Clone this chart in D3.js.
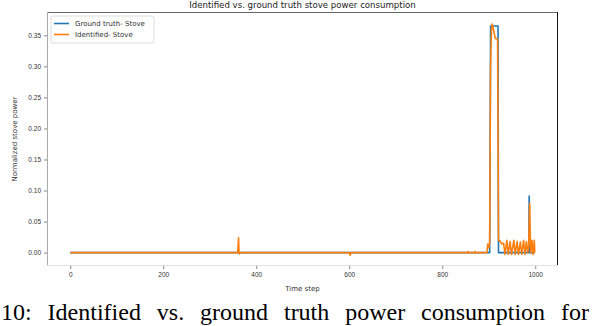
<!DOCTYPE html>
<html>
<head>
<meta charset="utf-8">
<script src="https://cdnjs.cloudflare.com/ajax/libs/d3/7.8.5/d3.min.js"></script>
<style>
  body { margin: 0; background: #fff; }
  svg { display: block; font-family: "DejaVu Sans", sans-serif; }
  .line { fill: none; stroke-width: 1.6px; stroke-linejoin: round; }
  .tick text { fill: #333; font-size: 6.5px; }
  .tick line { stroke: #888; }
  .caption { font-family: "Liberation Serif", "Times New Roman", Times, serif; font-size: 24px; fill: #000; }
</style>
</head>
<body>
<script>
// ground truth (step shape), [time step, normalized power]
var truthSteps = [0, 902, 904, 920, 921, 986, 987, 988, 999];
var truthValues = [0, 0, 0.365, 0.365, 0, 0, 0.091, 0, 0];

// identified signal
var identSteps = [0, 360, 362, 363, 364, 366, 600, 602, 604, 854, 855, 856, 870, 871, 872,
  896, 898, 900, 902, 904, 906, 907, 910, 914, 919, 921, 923, 928, 932, 935, 939, 942,
  946, 949, 954, 957, 961, 964, 968, 971, 975, 978, 981, 984, 986, 988, 990, 993, 995, 998, 999];
var identValues = [0, 0, 0.024, 0, -0.002, 0, 0, -0.004, 0, 0, 0.002, 0, 0, 0.002, 0,
  0, 0.014, 0.008, 0.015, 0.3, 0.36, 0.368, 0.36, 0.345, 0.344, 0.02, 0.02, 0.014, 0.015, -0.003, 0.02, -0.003,
  0.018, -0.003, 0.02, -0.003, 0.018, -0.003, 0.017, -0.003, 0.02, -0.003, 0.018, 0, 0.012, 0.079, 0, 0.02, -0.003, 0.02, 0];

var xTicks = [0, 200, 400, 600, 800, 1000];
var yTicks = [0, 0.05, 0.10, 0.15, 0.20, 0.25, 0.30, 0.35];

var W = 592, H = 326;
var margin = {top: 12, right: 34, bottom: 60, left: 47},
    width = W - margin.left - margin.right,
    height = H - margin.top - margin.bottom;

var truth = truthSteps.map((d, i) => [d, truthValues[i]]);
var ident = identSteps.map((d, i) => [d, identValues[i]]);

var x = d3.scaleLinear().domain([-49.95, 1048.95]).range([0, width]);
var y = d3.scaleLinear().domain([-0.0215, 0.3875]).range([height, 0]);

var svg = d3.select("body").append("svg")
    .attr("width", W)
    .attr("height", H);

var g = svg.append("g")
    .attr("transform", "translate(" + margin.left + "," + margin.top + ")");

var valueline = d3.line()
    .x(d => x(d[0]))
    .y(d => y(d[1]));

g.append("path").datum(truth).attr("class", "line").style("stroke", "#1f77b4").attr("d", valueline);
g.append("path").datum(ident).attr("class", "line").style("stroke", "#ff7f0e").attr("d", valueline);

// axes
var xAxis = g.append("g")
    .attr("transform", "translate(0," + height + ")")
    .call(d3.axisBottom(x).tickValues(xTicks).tickFormat(d3.format("d")).tickSize(3).tickPadding(3));
var yAxis = g.append("g")
    .call(d3.axisLeft(y).tickValues(yTicks).tickFormat(d3.format(".2f")).tickSize(3).tickPadding(3));
xAxis.select(".domain").remove();
yAxis.select(".domain").remove();

// spines
g.append("line").attr("x1", 0).attr("x2", width).attr("y1", 0.5).attr("y2", 0.5).style("stroke", "#666");
g.append("line").attr("x1", width - 0.5).attr("x2", width - 0.5).attr("y1", 0).attr("y2", height).style("stroke", "#111");
g.append("line").attr("x1", 0.5).attr("x2", 0.5).attr("y1", 0).attr("y2", height).style("stroke", "#aaa");
g.append("line").attr("x1", 0).attr("x2", width).attr("y1", height - 0.5).attr("y2", height - 0.5).style("stroke", "#e2e2e2");

// title and labels
svg.append("text")
    .attr("x", margin.left + width / 2).attr("y", 8)
    .style("text-anchor", "middle").style("font-size", "8.6px").style("fill", "#222")
    .text("Identified vs. ground truth stove power consumption");

svg.append("text")
    .attr("x", margin.left + width / 2).attr("y", 291)
    .style("text-anchor", "middle").style("font-size", "7px").style("fill", "#333")
    .text("Time step");

svg.append("text")
    .attr("transform", "rotate(-90)")
    .attr("x", -(margin.top + height / 2)).attr("y", 17)
    .style("text-anchor", "middle").style("font-size", "7px").style("fill", "#333")
    .text("Normalized stove power");

// legend
var legend = g.append("g").attr("transform", "translate(4,4)");
legend.append("rect").attr("width", 103).attr("height", 27).attr("rx", 2)
    .style("fill", "#fff").style("stroke", "#ddd");
[["Ground truth- Stove", "#1f77b4"], ["Identified- Stove", "#ff7f0e"]].forEach((d, i) => {
  legend.append("line").attr("x1", 3).attr("x2", 18).attr("y1", 7.5 + i * 11).attr("y2", 7.5 + i * 11)
      .style("stroke", d[1]).style("stroke-width", 1.6);
  legend.append("text").attr("x", 24).attr("y", 10 + i * 11)
      .style("font-size", "7px").style("fill", "#333").text(d[0]);
});

// caption from the paper, justified with wide word gaps
var captionText = "10: Identified vs. ground truth power consumption for";
var caption = svg.append("text")
    .attr("class", "caption")
    .attr("x", 1).attr("y", 320)
    .text(captionText);
var natural = caption.node().getComputedTextLength();
var gaps = captionText.split(" ").length - 1;
caption.style("word-spacing", Math.max(0, (588 - natural) / gaps) + "px");
</script>
</body>
</html>
